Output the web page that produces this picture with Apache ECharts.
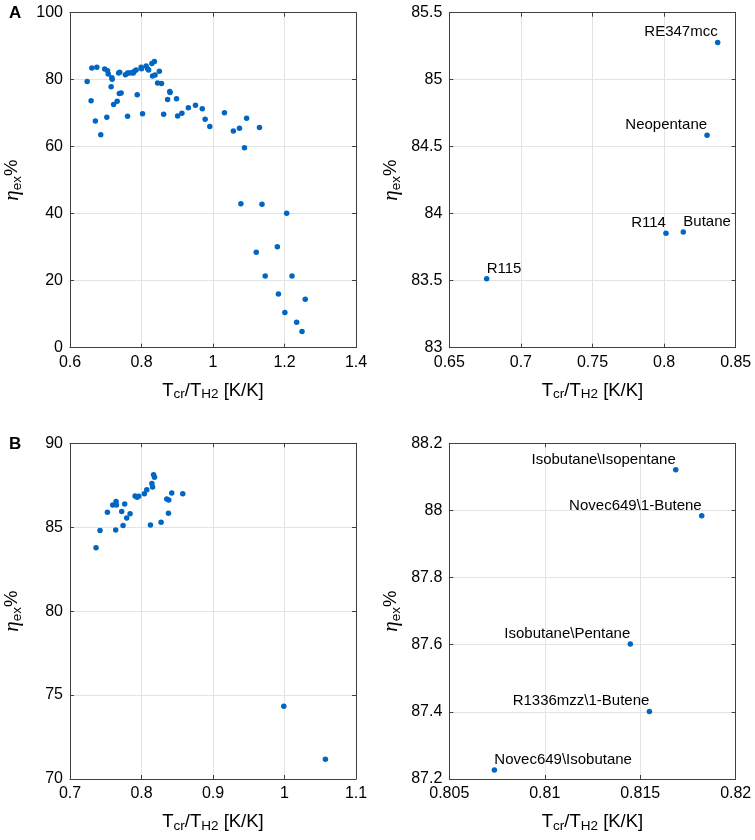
<!DOCTYPE html>
<html>
<head>
<meta charset="utf-8">
<script src="https://cdn.jsdelivr.net/npm/echarts@6/dist/echarts.min.js"></script>
<style>html,body{margin:0;padding:0;background:#fff}#c{width:755px;height:840px}</style>
</head>
<body>
<div id="c"></div>
<script>
// ---------- data ----------
// Panel A (left): all working fluids
const aAllX = [0.648,0.659,0.661,0.671,0.675,0.686,0.697,0.703,0.705,0.707,0.715,0.717,0.718,0.722,0.732,0.736,0.739,0.738,0.743,0.755,0.761,0.761,0.766,0.773,0.777,0.780,0.785,0.788,0.799,0.800,0.803,0.813,0.817,0.820,0.829,0.836,0.831,0.838,0.845,0.850,0.856,0.862,0.873,0.879,0.880,0.898,0.901,0.913,0.931,0.951,0.970,0.978,0.991,1.032,1.057,1.074,1.078,1.088,1.094,1.121,1.130,1.137,1.146,1.180,1.183,1.201,1.206,1.221,1.234,1.249,1.258];
const aAllY = [79.5,73.7,83.5,67.7,83.7,63.6,83.2,68.8,82.7,81.7,77.9,80.6,80.1,72.6,73.6,82.0,82.2,75.9,76.0,81.5,82.0,69.1,82.0,82.1,82.0,82.5,82.9,75.5,83.7,83.3,69.8,84.1,83.3,82.9,84.8,85.4,81.1,81.4,79.0,82.5,78.9,69.7,74.1,76.5,76.2,74.3,69.2,70.0,71.6,72.4,71.3,68.2,66.0,70.1,64.7,65.5,43.0,59.7,68.5,28.5,65.7,42.8,21.4,30.1,16.0,10.5,40.1,21.4,7.6,4.8,14.5];
// Panel A (right): best pure fluids
const aTopNames = ['R115','R114','Butane','Neopentane','RE347mcc'];
const aTopX = [0.6761,0.8013,0.8134,0.8300,0.8374];
const aTopY = [83.514,83.854,83.864,84.586,85.277];
// Panel B (left): all mixtures
const bAllX = [0.7364,0.7420,0.7523,0.7597,0.7639,0.7644,0.7649,0.7723,0.7742,0.7765,0.7793,0.7840,0.7910,0.7938,0.7961,0.8040,0.8074,0.8125,0.8145,0.8155,0.8169,0.8182,0.8274,0.8353,0.8381,0.8377,0.8423,0.8577,0.9990,1.0572];
const bAllY = [83.78,84.80,85.89,86.33,84.84,86.54,86.33,85.93,85.11,86.39,85.55,85.81,86.86,86.78,86.84,87.00,87.23,85.13,87.60,87.40,88.12,87.98,85.29,86.68,86.62,85.83,87.04,87.00,74.33,71.17];
// Panel B (right): best mixtures
const bTopNames = ['Isobutane\\Isopentane','Novec649\\1-Butene','Isobutane\\Pentane','R1336mzz\\1-Butene','Novec649\\Isobutane'];
const bTopX = [0.81686,0.81822,0.81448,0.81548,0.80736];
const bTopY = [88.121,87.984,87.602,87.401,87.227];
// axis ranges [min, max, interval]
const axAlx = [0.6, 1.4, 0.2],  axAly = [0, 100, 20];
const axArx = [0.65, 0.85, 0.05], axAry = [83, 85.5, 0.5];
const axBlx = [0.7, 1.1, 0.1],  axBly = [70, 90, 5];
const axBrx = [0.805, 0.82, 0.005], axBry = [87.2, 88.2, 0.2];
// label placement (left = text ends at the point)
const aTopSide = ['right','left','right','left','left'];
const bTopSide = ['left','left','left','left','right'];

// ---------- style ----------
const FONT = 'Liberation Sans, Arial, Helvetica, sans-serif';
const DOT = '#0066C4';
const LINE = '#404040';
const GRIDC = '#e3e3e3';

const grids = [
  {left: 70, top: 12.7, width: 286, height: 335},
  {left: 449.3, top: 12.7, width: 286.4, height: 335},
  {left: 70, top: 443.3, width: 286, height: 335.7},
  {left: 449.3, top: 443.3, width: 286.4, height: 335.7}
];

const xName = '{n|T}{s|cr}{n|/T}{s|H2}{n| [K/K]}';
const yName = '{e|η}{s|ex}{n|%}';
const nameRich = {
  n: {fontSize: 18.5, fontFamily: FONT, color: '#000', lineHeight: 22},
  e: {fontSize: 21, fontFamily: 'Liberation Serif, serif', fontStyle: 'italic', color: '#000', lineHeight: 24},
  s: {fontSize: 13.5, fontFamily: FONT, color: '#000', lineHeight: 13, verticalAlign: 'bottom'}
};

function fmt(v) { return String(+v.toFixed(4)); }

function mkX(gi, r, main) {
  return {
    type: 'value', gridIndex: gi, min: r[0], max: r[1], interval: r[2],
    position: main ? 'bottom' : 'top',
    name: main ? xName : '', nameLocation: 'middle', nameGap: 32,
    nameTextStyle: {rich: nameRich},
    axisLine: {show: true, onZero: false, lineStyle: {color: LINE, width: 1}},
    axisTick: {show: true, inside: true, length: 4, lineStyle: {color: LINE}},
    axisLabel: {show: main, margin: 7, fontSize: 16, fontFamily: FONT, color: '#000', formatter: fmt},
    splitLine: {show: main, lineStyle: {color: GRIDC, width: 1}}
  };
}
function mkY(gi, r, main) {
  return {
    type: 'value', gridIndex: gi, min: r[0], max: r[1], interval: r[2],
    position: main ? 'left' : 'right',
    name: main ? yName : '', nameLocation: 'middle', nameGap: 46, nameRotate: 90,
    nameTextStyle: {rich: nameRich},
    axisLine: {show: true, onZero: false, lineStyle: {color: LINE, width: 1}},
    axisTick: {show: true, inside: true, length: 4, lineStyle: {color: LINE}},
    axisLabel: {show: main, margin: 7, fontSize: 16, fontFamily: FONT, color: '#000', formatter: fmt},
    splitLine: {show: main, lineStyle: {color: GRIDC, width: 1}}
  };
}

const ranges = [[axAlx, axAly], [axArx, axAry], [axBlx, axBly], [axBrx, axBry]];
const xAxes = [], yAxes = [];
ranges.forEach((r, i) => { xAxes.push(mkX(i, r[0], true)); yAxes.push(mkY(i, r[1], true)); });
ranges.forEach((r, i) => { xAxes.push(mkX(i, r[0], false)); yAxes.push(mkY(i, r[1], false)); });

function pts(xs, ys) { return xs.map((x, i) => [x, ys[i]]); }
function named(xs, ys, sides) {
  return xs.map((x, i) => ({
    value: [x, ys[i]],
    label: {align: sides[i] === 'left' ? 'right' : 'left'}
  }));
}
function scatter(idx, data, names) {
  const s = {
    type: 'scatter', xAxisIndex: idx, yAxisIndex: idx, data: data,
    symbolSize: 5.5, itemStyle: {color: DOT, opacity: 1}, silent: true, animation: false
  };
  if (names) {
    s.label = {
      show: true, position: 'top', distance: 0,
      fontSize: 15, fontFamily: FONT, color: '#000',
      formatter: p => names[p.dataIndex]
    };
  }
  return s;
}

const option = {
  animation: false,
  grid: grids,
  xAxis: xAxes,
  yAxis: yAxes,
  series: [
    scatter(0, pts(aAllX, aAllY)),
    scatter(1, named(aTopX, aTopY, aTopSide), aTopNames),
    scatter(2, pts(bAllX, bAllY)),
    scatter(3, named(bTopX, bTopY, bTopSide), bTopNames)
  ],
  graphic: [
    {type: 'text', left: 9, top: 5, style: {text: 'A', font: 'bold 17px ' + FONT, fill: '#000'}},
    {type: 'text', left: 9, top: 436, style: {text: 'B', font: 'bold 17px ' + FONT, fill: '#000'}}
  ]
};

const chart = echarts.init(document.getElementById('c'), null, {renderer: 'canvas'});
chart.setOption(option);
</script>
</body>
</html>
